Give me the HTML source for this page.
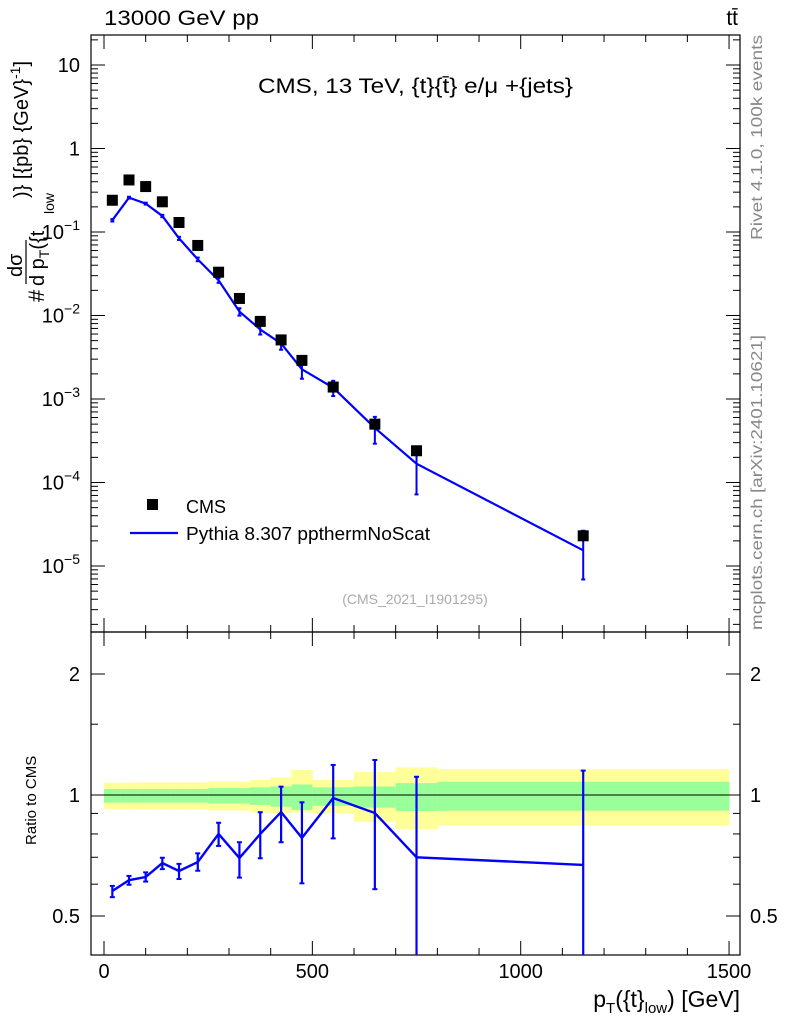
<!DOCTYPE html>
<html><head><meta charset="utf-8"><style>
body{margin:0;background:#fff;}
svg text{font-family:"Liberation Sans",sans-serif;}
</style></head><body>
<svg id="c" width="786" height="1024" xmlns="http://www.w3.org/2000/svg"></svg>
<script>
const edges=[0,40,80,120,160,200,250,300,350,400,450,500,600,700,800,1500];
const centers=[20,60,100,140,180,225,275,325,375,425,475,550,650,750,1150];
const cmsVals=[0.24,0.42,0.35,0.23,0.13,0.069,0.033,0.016,0.0085,0.0051,0.0029,0.00139,0.0005,0.00024,0.000023];
const ratioVals=[0.577,0.614,0.625,0.677,0.647,0.681,0.80,0.697,0.80,0.907,0.782,0.983,0.902,0.70,0.67];
const ratioLo=[0.557,0.598,0.609,0.654,0.618,0.648,0.747,0.623,0.696,0.763,0.603,0.780,0.583,0.30,0.30];
const ratioHi=[0.594,0.629,0.642,0.698,0.674,0.716,0.853,0.763,0.906,1.049,0.959,1.188,1.222,1.11,1.15];
const yelUp=[1.073,1.073,1.075,1.075,1.075,1.075,1.08,1.08,1.09,1.106,1.154,1.09,1.14,1.172,1.16];
const yelDn=[0.921,0.921,0.92,0.92,0.92,0.92,0.915,0.915,0.905,0.902,0.905,0.9,0.858,0.823,0.839];
const grnUp=[1.035,1.035,1.035,1.035,1.035,1.035,1.04,1.04,1.045,1.05,1.062,1.045,1.05,1.07,1.079];
const grnDn=[0.957,0.957,0.957,0.957,0.957,0.957,0.952,0.952,0.945,0.935,0.918,0.94,0.93,0.912,0.914];
const xTicks=[0,500,1000,1500];
const mainTicks=[1,0,-1,-2,-3,-4,-5];
const ratioTicks=[0.5,1,2];

const svg=document.getElementById('c');
const NS='http://www.w3.org/2000/svg';
function el(t,a,p){const e=document.createElementNS(NS,t);for(const k in a)e.setAttribute(k,a[k]);(p||svg).appendChild(e);return e;}
const L=91,R=740,T=35,MB=632,RB=955;
const X=v=>104+v*0.4167;
const Y=v=>566-(Math.log10(v)+5)*83.5;
const YR=v=>795-Math.log2(v)*121;

const bands=el('g',{});


for(let i=0;i<centers.length;i++){
  const x0=X(edges[i]),x1=X(edges[i+1]);
  const y=el('rect',{x:x0,y:YR(yelUp[i]),width:x1-x0+0.5,height:YR(yelDn[i])-YR(yelUp[i]),fill:'#ffff99'},bands);
  
  
  const g=el('rect',{x:x0,y:YR(grnUp[i]),width:x1-x0+0.5,height:YR(grnDn[i])-YR(grnUp[i]),fill:'#99ff99'},bands);
  
  
}
el('line',{x1:L,x2:R,y1:YR(1),y2:YR(1),stroke:'#000','stroke-width':1});

el('rect',{x:L,y:T,width:R-L,height:MB-T,fill:'none',stroke:'#000','stroke-width':1.2});
el('rect',{x:L,y:MB,width:R-L,height:RB-MB,fill:'none',stroke:'#000','stroke-width':1.2});

for(const v of xTicks){
  el('line',{x1:X(v),x2:X(v),y1:MB,y2:MB-14,stroke:'#000'});
  el('line',{x1:X(v),x2:X(v),y1:RB,y2:RB-14,stroke:'#000'});
  el('line',{x1:X(v),x2:X(v),y1:T,y2:T+14,stroke:'#000'});
  el('line',{x1:X(v),x2:X(v),y1:MB,y2:MB+14,stroke:'#000'});
  const t=el('text',{x:X(v),y:978,'font-size':20,'text-anchor':'middle'});t.textContent=v;
  
  
}
for(let v=100;v<1500;v+=100){if(v%500==0)continue;
  for(const yy of [[MB,MB-7],[RB,RB-7],[T,T+7],[MB,MB+7]])el('line',{x1:X(v),x2:X(v),y1:yy[0],y2:yy[1],stroke:'#000'});}

const lab={1:'10',0:'1'};
for(const e of mainTicks){
  const y=Y(Math.pow(10,e));
  el('line',{x1:L,x2:L+14,y1:y,y2:y,stroke:'#000'});el('line',{x1:R,x2:R-14,y1:y,y2:y,stroke:'#000'});
  for(let m=2;m<=9;m++){const ym=Y(m*Math.pow(10,e-1));if(ym>T&&ym<MB){el('line',{x1:L,x2:L+7,y1:ym,y2:ym,stroke:'#000'});el('line',{x1:R,x2:R-7,y1:ym,y2:ym,stroke:'#000'});}}
  const t=el('text',{x:80,y:y+7,'font-size':20,'text-anchor':'end'});
  
  
  if(lab[e]!==undefined)t.textContent=lab[e];
  else{t.textContent='10';const s=el('tspan',{'font-size':14,dy:-9},t);s.textContent='\u2212'+(-e);}
}
{const ym=Y(20);el('line',{x1:L,x2:L+7,y1:ym,y2:ym,stroke:'#000'});el('line',{x1:R,x2:R-7,y1:ym,y2:ym,stroke:'#000'});}

for(const v of ratioTicks){
  const y=YR(v);
  el('line',{x1:L,x2:L+14,y1:y,y2:y,stroke:'#000'});el('line',{x1:R,x2:R-14,y1:y,y2:y,stroke:'#000'});
  const a=el('text',{x:80,y:y+7,'font-size':20,'text-anchor':'end'});a.textContent=v;
  
  
  const b=el('text',{x:750,y:y+7,'font-size':20});b.textContent=v;
  
  
}
for(const v of [0.6,0.7,0.8,0.9,1.5]){const y=YR(v);el('line',{x1:L,x2:L+7,y1:y,y2:y,stroke:'#000'});el('line',{x1:R,x2:R-7,y1:y,y2:y,stroke:'#000'});}

const mcVals=cmsVals.map((v,i)=>v*ratioVals[i]);
let d='';centers.forEach((c,i)=>{d+=(i?'L':'M')+X(c)+' '+Y(mcVals[i]);});
const ml=el('path',{d:d,fill:'none',stroke:'#0000ff','stroke-width':2.2});


centers.forEach((c,i)=>{
  const lo=Math.max(cmsVals[i]*ratioLo[i],4.5e-6),hi=cmsVals[i]*ratioHi[i];
  const e=el('line',{x1:X(c),x2:X(c),y1:Y(lo),y2:Y(hi),stroke:'#0000ff','stroke-width':2});
  
  
  for(const v of [lo,hi])el('line',{x1:X(c)-2,x2:X(c)+2,y1:Y(v),y2:Y(v),stroke:'#0000ff','stroke-width':2});
});
centers.forEach((c,i)=>{
  const r=el('rect',{x:X(c)-5.5,y:Y(cmsVals[i])-5.5,width:11,height:11,fill:'#000'});
  
  
});

let d2='';centers.forEach((c,i)=>{d2+=(i?'L':'M')+X(c)+' '+YR(ratioVals[i]);});
const rl=el('path',{d:d2,fill:'none',stroke:'#0000ff','stroke-width':2.4});


centers.forEach((c,i)=>{
  const y1=Math.min(YR(ratioLo[i]),RB),y2=YR(ratioHi[i]);
  const e=el('line',{x1:X(c),x2:X(c),y1:y1,y2:y2,stroke:'#0000ff','stroke-width':2.2});
  
  
  for(const yy of [y1,y2]){if(yy<RB-1)el('line',{x1:X(c)-2.5,x2:X(c)+2.5,y1:yy,y2:yy,stroke:'#0000ff','stroke-width':2});}
});

function txt(x,y,s,sz,name,extra){const t=el('text',Object.assign({x:x,y:y,'font-size':sz},extra||{}));t.textContent=s;
  
  return t;}
txt(104,25,'13000 GeV pp',21,'header-left',{textLength:155,lengthAdjust:'spacingAndGlyphs'});
txt(738,25,'tt̄',21,'header-right',{'text-anchor':'end'});
txt(258,93,'CMS, 13 TeV, {t}{t̄} e/μ +{jets}',21,'plot-title',{textLength:315,lengthAdjust:'spacingAndGlyphs'});
txt(415,604,'(CMS_2021_I1901295)',14,'analysis-id',{'text-anchor':'middle',fill:'#aaa'});
const lr=el('rect',{x:147,y:499,width:11,height:11,fill:'#000'});


txt(186,513,'CMS',18,'legend-cms');
const ll=el('line',{x1:130,x2:178,y1:533,y2:533,stroke:'#0000ff','stroke-width':2.2});


txt(186,540,'Pythia 8.307 ppthermNoScat',18,'legend-pythia',{textLength:244,lengthAdjust:'spacingAndGlyphs'});
txt(740,1007,'',23,'x-axis-title',{'text-anchor':'end'}).innerHTML='p<tspan font-size="15" dy="6">T</tspan><tspan dy="-6">({t}</tspan><tspan font-size="15" dy="6">low</tspan><tspan dy="-6">) [GeV]</tspan>';
// y title (rotated group)
const yg=el('g',{transform:'rotate(-90)'});


el('text',{x:-302,y:44,'font-size':22},yg).textContent='#';
el('text',{x:-277,y:22,'font-size':20},yg).textContent='dσ';
el('line',{x1:-284,x2:-240,y1:26,y2:26,stroke:'#000','stroke-width':1.2},yg);
el('text',{x:-286,y:44,'font-size':20},yg).innerHTML='d p<tspan font-size="14" dy="5">T</tspan><tspan dy="-5">({t</tspan>';
el('text',{x:-214,y:54,'font-size':14},yg).textContent='low';
el('text',{x:-198,y:28,'font-size':20},yg).innerHTML=')} [{pb} {GeV}<tspan font-size="14" dy="-8">-1</tspan><tspan dy="8">]</tspan>';
txt(0,0,'Ratio to CMS',15,'ratio-y-axis-title',{transform:'translate(36,845) rotate(-90)'});
txt(0,0,'Rivet 4.1.0,  100k events',16,'side-rivet',{transform:'translate(762,240) rotate(-90)',fill:'#888',textLength:205,lengthAdjust:'spacingAndGlyphs'});
txt(0,0,'mcplots.cern.ch [arXiv:2401.10621]',16,'side-mcplots',{transform:'translate(762,630) rotate(-90)',fill:'#888',textLength:295,lengthAdjust:'spacingAndGlyphs'});
</script>
</body></html>
